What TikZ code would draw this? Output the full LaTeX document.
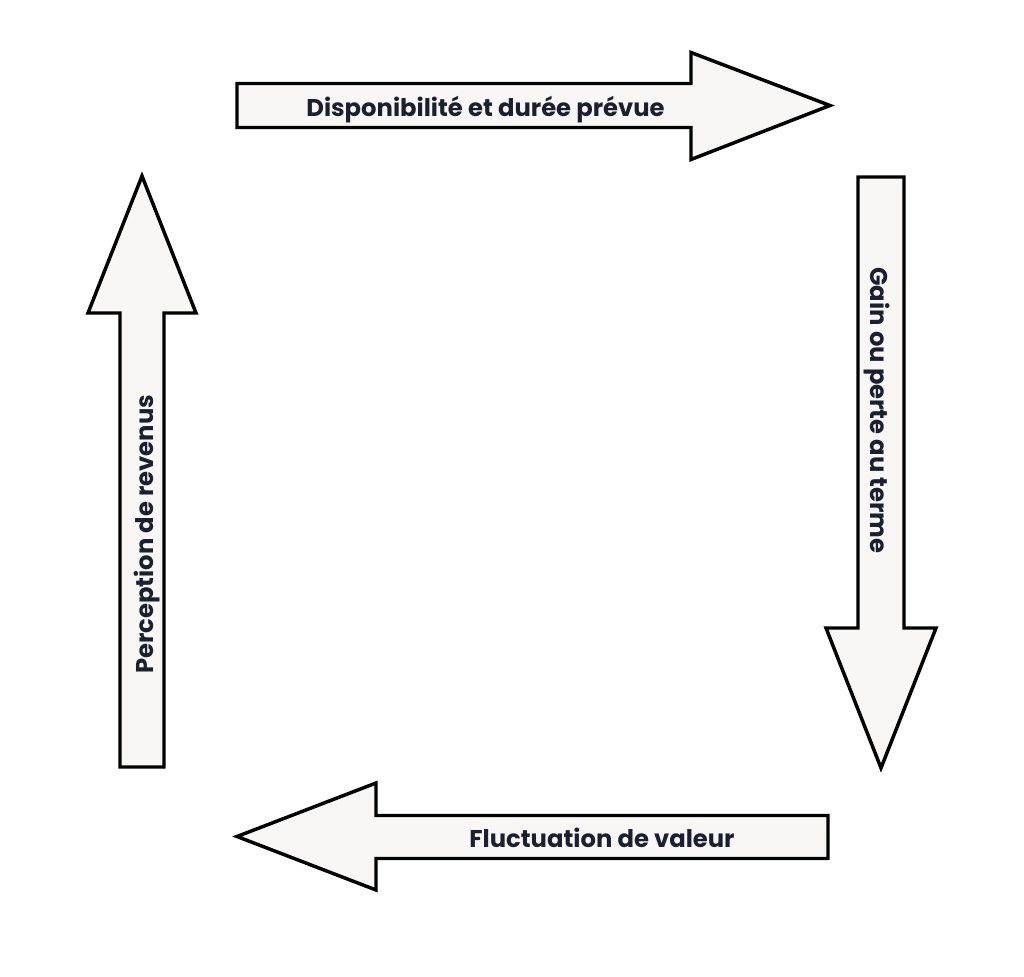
\documentclass[tikz,border=0pt]{standalone}
\usepackage{fontspec}
\setmainfont{Poppins}
\usepackage{tikz}
\definecolor{arrowfill}{RGB}{248,247,246}
\definecolor{labelink}{RGB}{27,31,48}
\tikzset{
  blockarrow/.style={line width=2.6, draw=black, fill=arrowfill, line join=miter},
  arrowlabel/.style={inner sep=0.75pt, color=labelink, font=\bfseries\fontsize{18.2}{21}\selectfont}
}
\begin{document}
\begin{tikzpicture}[x=0.75pt,y=0.75pt,yscale=-1,xscale=1]
\useasboundingbox (0,0) rectangle (1024,977);
% Shape: top arrow
\draw [blockarrow] (237,83.5) -- (691,83.5) -- (691,52.5) -- (830,105.5) -- (691,159.5) -- (691,127.5) -- (237,127.5) -- cycle ;
% Shape: right arrow
\draw [blockarrow] (858,177) -- (904,177) -- (904,628) -- (936,628) -- (881,768) -- (826,628) -- (858,628) -- cycle ;
% Shape: bottom arrow
\draw [blockarrow] (828,815.5) -- (828,858.5) -- (376,858.5) -- (376,890) -- (237,836.5) -- (376,783) -- (376,815.5) -- cycle ;
% Shape: left arrow
\draw [blockarrow] (120,767) -- (164,767) -- (164,313) -- (196,313) -- (142,176) -- (88,313) -- (120,313) -- cycle ;
% Text Node
\draw (485.5,117) node [anchor=base, arrowlabel] (dispo) {Disponibilité et durée prévue};
% Text Node
\draw (870,410.5) node [anchor=base, rotate=-90, arrowlabel] (gain) {Gain ou perte au terme};
% Text Node
\draw (602,847) node [anchor=base, arrowlabel] (fluct) {Fluctuation de valeur};
% Text Node
\draw (153,534.5) node [anchor=base, rotate=90, arrowlabel] (percep) {Perception de revenus};
\end{tikzpicture}
\end{document}
